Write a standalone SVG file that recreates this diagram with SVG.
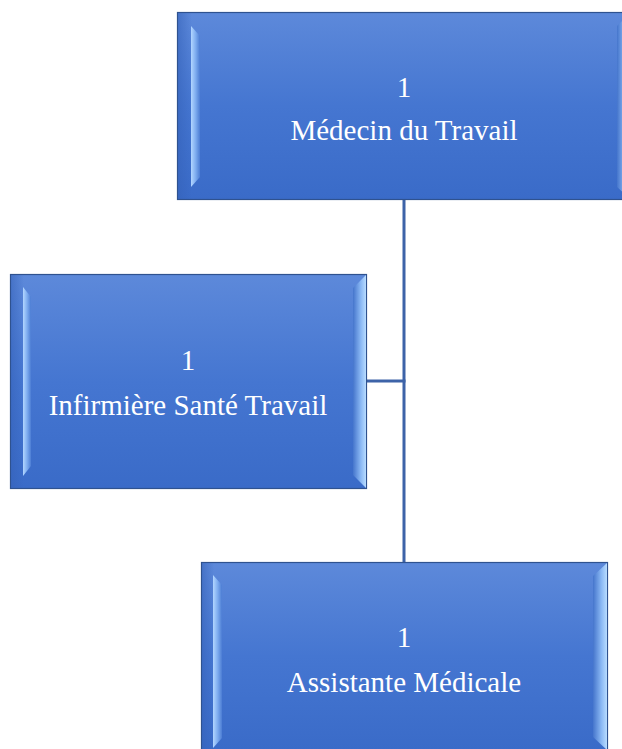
<svg xmlns="http://www.w3.org/2000/svg" width="622" height="749" viewBox="0 0 622 749">
<defs>
<linearGradient id="face" x1="0" y1="0" x2="0" y2="1">
<stop offset="0" stop-color="#5d89da"/>
<stop offset="0.5" stop-color="#4576d1"/>
<stop offset="1" stop-color="#3a6bc8"/>
</linearGradient>
<linearGradient id="lstrip" x1="0" y1="0" x2="1" y2="0">
<stop offset="0" stop-color="#b2d6ff"/>
<stop offset="0.5" stop-color="#80aef0"/>
<stop offset="1" stop-color="#4c7dd4"/>
</linearGradient>
<linearGradient id="rstrip" x1="0" y1="0" x2="1" y2="0">
<stop offset="0" stop-color="#4575cc"/>
<stop offset="0.6" stop-color="#8ab8f4"/>
<stop offset="1" stop-color="#b8dcff"/>
</linearGradient>
<linearGradient id="band" x1="0" y1="0" x2="1" y2="0">
<stop offset="0" stop-color="#3461b8" stop-opacity="0.55"/>
<stop offset="1" stop-color="#3461b8" stop-opacity="0"/>
</linearGradient>
</defs>
<style>
.box{fill:url(#face);stroke:#2f528f;stroke-width:1.2}
.ls{fill:url(#lstrip)}
.rs{fill:url(#rstrip)}
.lbl{font-family:"Liberation Serif","Times New Roman",serif;font-size:29px;fill:#ffffff;text-anchor:middle}
.conn{stroke:#3d63a8;stroke-width:3;fill:none}
</style>
<rect width="622" height="749" fill="#ffffff"/>
<g id="connectors">
<line class="conn" x1="404" y1="199" x2="404" y2="562"/>
<line class="conn" x1="366" y1="381" x2="405.5" y2="381"/>
</g>
<g id="node-medecin">
<rect class="box" x="177.5" y="12.5" width="454" height="187"/>
<rect x="178" y="13" width="14" height="186" fill="url(#band)"/>
<polygon class="ls" points="191,26 200,36 200,177 191,187"/>
<polygon class="rs" points="630,13 617,26 617,187 630,199"/>
<text class="lbl" x="404" y="97">1</text>
<text class="lbl" x="404" y="140">Médecin du Travail</text>
</g>
<g id="node-infirmiere">
<rect class="box" x="10.5" y="274.5" width="356" height="214"/>
<rect x="11" y="275" width="13" height="213" fill="url(#band)"/>
<polygon class="ls" points="23,287 31,297 31,466 23,476"/>
<polygon class="rs" points="366,275 353,288 353,475 366,488"/>
<text class="lbl" x="188" y="370">1</text>
<text class="lbl" x="188" y="415">Infirmière Santé Travail</text>
</g>
<g id="node-assistante">
<rect class="box" x="201.5" y="562.5" width="406" height="188"/>
<rect x="202" y="563" width="12" height="187" fill="url(#band)"/>
<polygon class="ls" points="213,575 222,585 222,738 213,748"/>
<polygon class="rs" points="607,563 593,576 593,737 607,750"/>
<text class="lbl" x="404" y="647">1</text>
<text class="lbl" x="404" y="692">Assistante Médicale</text>
</g>
</svg>
